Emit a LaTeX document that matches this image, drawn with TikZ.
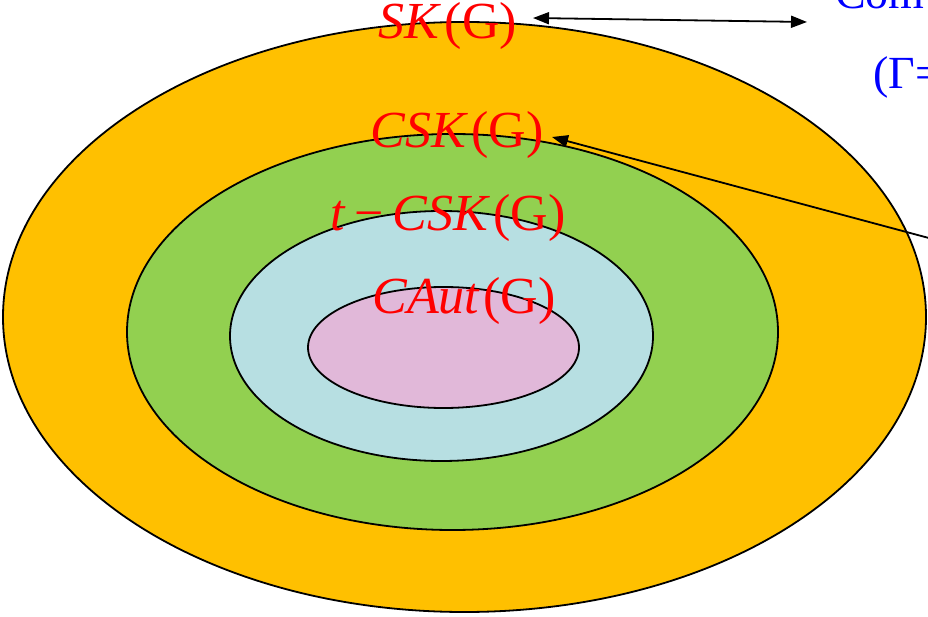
\documentclass[tikz,border=0pt]{standalone}
\usepackage{fontspec}
\setmainfont{Liberation Serif}
\usetikzlibrary{arrows.meta,shapes.geometric}
\definecolor{ringA}{HTML}{FFC000}
\definecolor{ringB}{HTML}{92D050}
\definecolor{ringC}{HTML}{B7DFE2}
\definecolor{ringD}{HTML}{E1B8D9}
\newcommand{\gsep}{\kern3pt}
\begin{document}
\begin{tikzpicture}[x=1pt,y=-1pt,
  ring/.style={ellipse,draw=black,line width=1.8pt,inner sep=0pt},
  setlabel/.style={text=red,font=\fontsize{52}{52}\selectfont,inner sep=0pt,anchor=base},
  bluetext/.style={text=blue,font=\fontsize{46}{46}\selectfont,inner sep=0pt,anchor=base west},
  link/.style={line width=1.8pt,-{Triangle[length=16pt,width=12pt]}}]
\useasboundingbox (0,0) rectangle (928,617);
\clip (0,0) rectangle (928,617);
% nested sets
\node[ring,fill=ringA,minimum width=923pt,minimum height=590pt] (sk) at (464.5,317) {};
\node[ring,fill=ringB,minimum width=651pt,minimum height=396pt] (csk) at (452.5,332) {};
\node[ring,fill=ringC,minimum width=423pt,minimum height=250pt] (tcsk) at (441.5,336) {};
\node[ring,fill=ringD,minimum width=271pt,minimum height=121pt] (caut) at (443.5,347.5) {};
% labels
\node[setlabel] (lsk) at (448,39) {\textit{SK}\gsep(G)};
\node[setlabel] (lcsk) at (457,148) {\textit{CSK}\gsep(G)};
\node[setlabel] (ltcsk) at (448,231) {\textit{t}\,−\,\textit{CSK}\gsep(G)};
\node[setlabel] (lcaut) at (464,313) {\textit{CAut}\gsep(G)};
% side notes (running past the right edge)
\node[bluetext] (note1) at (835,9) {Com};
\node[bluetext] (note2) at (873,89) {(Γ=};
\coordinate (farend) at (940,241);
% connectors
\draw[line width=1.8pt,{Triangle[length=16pt,width=12pt]}-{Triangle[length=16pt,width=12pt]}]
  (533,18) -- (807,22);
\draw[link] (farend) -- (552,137);
\end{tikzpicture}
\end{document}
